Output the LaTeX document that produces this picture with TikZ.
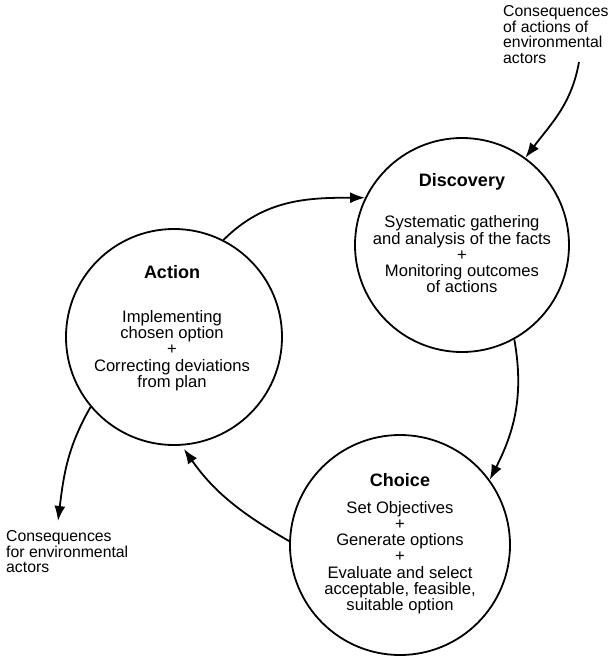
\documentclass[tikz,border=0pt]{standalone}
\usepackage{fontspec}
\setmainfont{Liberation Sans}
\usetikzlibrary{arrows.meta}
\begin{document}
\begin{tikzpicture}[x=1pt,y=1pt,
  circ/.style={circle,draw,line width=1.8pt,minimum size=#1,inner sep=0pt},
  ttl/.style={font=\fontsize{18}{20}\selectfont\bfseries,inner sep=0pt},
  body/.style={font=\fontsize{16.6}{16.25}\selectfont,align=center,inner sep=0pt},
  side/.style={font=\fontsize{15.8}{15.5}\selectfont,align=left,inner sep=0pt},
  arr/.style={line width=1.8pt,-{Latex[length=15pt,width=11pt]}}]
\useasboundingbox (0,0) rectangle (611,-657);
% circles
\node[circ=214pt] (D) at (462,-245) {};
\node[circ=216pt] (A) at (174,-337) {};
\node[circ=220pt] (C) at (400,-545) {};
% titles and texts
\node[ttl] (Dt) at (462,-182) {Discovery};
\node[body] (Db) at (462,-254.5) {Systematic gathering\\and analysis of the facts\\+\\Monitoring outcomes\\of actions};
\node[ttl] (At) at (172,-272) {Action};
\node[body] (Ab) at (172,-350.5) {Implementing\\chosen option\\+\\Correcting deviations\\from plan};
\node[ttl] (Ct) at (400,-480) {Choice};
\node[body] (Cb) at (400,-557.5) {Set Objectives\\+\\Generate options\\+\\Evaluate and select\\acceptable, feasible,\\suitable option};
\node[side,anchor=west] (TR) at (503,-34.5) {Consequences\\of actions of\\environmental\\actors};
\node[side,anchor=west] (BL) at (6,-552) {Consequences\\for environmental\\actors};
% free ends
\coordinate (topr) at (579,-62);
\coordinate (botl) at (58,-521);
% connectors
\draw[arr] (A.63) to[out=45,in=180] (D.154);
\draw[arr] (D.-61) to[out=-80,in=63] (C.36);
\draw[arr,shorten >=4pt] (C.178) to[out=150,in=-55] (A.-86);
\draw[arr] (A.220) to[out=240,in=83] (botl);
\draw[arr] (topr) to[out=260,in=53] (D.54);
\end{tikzpicture}
\end{document}
